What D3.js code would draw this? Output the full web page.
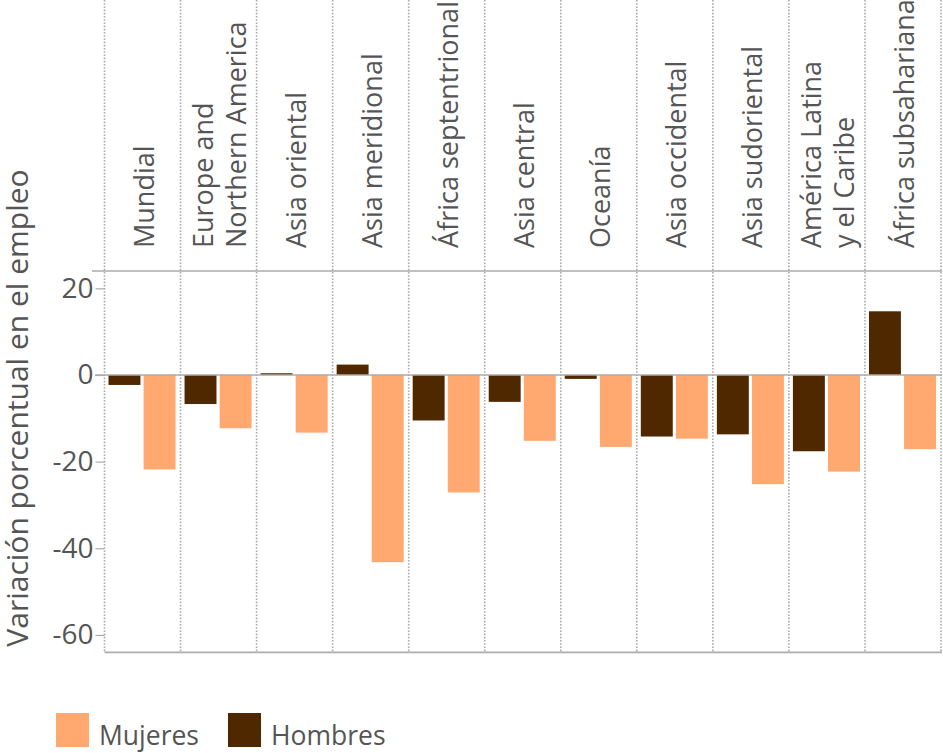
<!DOCTYPE html>
<html>
<head>
<meta charset="utf-8">
<script src="https://cdn.jsdelivr.net/npm/d3@7"></script>
<style>
  html, body { margin: 0; padding: 0; background: #fff; }
  svg text { font-family: "Open Sans", "Noto Sans", sans-serif; fill: #555; }
</style>
</head>
<body>
<svg id="chart" width="943" height="753"></svg>
<script>
// ---- data ----
const categories = ["Mundial", "Europe and\nNorthern America", "Asia oriental", "Asia meridional",
  "África septentrional", "Asia central", "Oceanía", "Asia occidental", "Asia sudoriental",
  "América Latina\ny el Caribe", "África subsahariana"];
const hombres = [-2.3, -6.7, 0.4, 2.4, -10.5, -6.2, -0.9, -14.2, -13.7, -17.6, 14.7];
const mujeres = [-21.8, -12.3, -13.3, -43.2, -27.1, -15.2, -16.6, -14.7, -25.2, -22.3, -17.1];
const seriesNames = ["Hombres", "Mujeres"];
const legendOrder = ["Mujeres", "Hombres"];
const yTicks = [20, 0, -20, -40, -60];
const yTitle = "Variación porcentual en el empleo";
const colors = { Mujeres: "#FFA971", Hombres: "#4F2800" };

// ---- layout ----
const svg = d3.select("#chart");
const pLeft = 104.5, pRight = 941, pTop = 271, pBottom = 652.3;
const gridGray = "#ababab";

const x = d3.scaleBand().domain(categories).range([pLeft, pRight]).paddingInner(0).paddingOuter(0);
const bw = x.bandwidth();
const xs = d3.scaleBand().domain(seriesNames).range([4, bw - 5]).paddingInner(0.09).paddingOuter(0);
const y = d3.scaleLinear().domain([-64, 24]).range([pBottom, pTop]);

// dotted vertical separators
const bounds = categories.map(c => x(c)).concat([pRight]);
svg.append("g").selectAll("line").data(bounds).join("line")
  .attr("x1", d => d).attr("x2", d => d)
  .attr("y1", 0).attr("y2", pBottom)
  .attr("stroke", gridGray).attr("stroke-width", 1.6)
  .attr("stroke-dasharray", "1.6,1.6");

// top horizontal separator
svg.append("line").attr("x1", 92).attr("x2", 942).attr("y1", pTop).attr("y2", pTop)
  .attr("stroke", gridGray).attr("stroke-width", 1.6);

// bars
const rows = categories.map((c, i) => ({ c, Hombres: hombres[i], Mujeres: mujeres[i] }));
const g = svg.append("g");
rows.forEach(r => {
  seriesNames.forEach(s => {
    const v = r[s];
    g.append("rect")
      .attr("x", x(r.c) + xs(s))
      .attr("width", xs.bandwidth())
      .attr("y", y(Math.max(0, v)))
      .attr("height", Math.abs(y(v) - y(0)))
      .attr("fill", colors[s]);
  });
});

// zero line
svg.append("line").attr("x1", 95).attr("x2", 942).attr("y1", y(0)).attr("y2", y(0))
  .attr("stroke", gridGray).attr("stroke-width", 1.6);

// bottom axis line
svg.append("line").attr("x1", pLeft).attr("x2", 942).attr("y1", pBottom).attr("y2", pBottom)
  .attr("stroke", gridGray).attr("stroke-width", 1.8);

// y axis
const yAxis = d3.axisLeft(y).tickValues(yTicks).tickSize(9).tickPadding(2).tickFormat(d => String(d));
const ya = svg.append("g").attr("transform", `translate(${pLeft},0)`).call(yAxis);
ya.select(".domain").remove();
ya.selectAll(".tick line").attr("stroke", gridGray).attr("stroke-width", 1.2);
ya.selectAll(".tick text").attr("font-size", 28).attr("fill", "#555")
  .attr("font-family", '"Open Sans", sans-serif');

// y title
svg.append("text")
  .attr("transform", `translate(28,408) rotate(-90)`)
  .attr("text-anchor", "middle").attr("font-size", 30)
  .text(yTitle);

// category header labels (rotated)
const lineH = 33;
categories.forEach(c => {
  const lines = c.split("\n");
  const n = lines.length;
  const cx = x(c) + bw / 2;
  lines.forEach((ln, i) => {
    const bx = cx + 11 + (i - (n - 1) / 2) * lineH;
    svg.append("text")
      .attr("transform", `translate(${bx},248) rotate(-90)`)
      .attr("text-anchor", "start").attr("font-size", 27)
      .text(ln);
  });
});

// legend
const lg = svg.append("g");
const legX = { Mujeres: 56, Hombres: 228 };
legendOrder.forEach(s => {
  lg.append("rect").attr("x", legX[s]).attr("y", 713).attr("width", 33).attr("height", 34)
    .attr("fill", colors[s]);
  lg.append("text").attr("x", legX[s] + 43).attr("y", 745).attr("font-size", 26.5).text(s);
});
</script>
</body>
</html>
